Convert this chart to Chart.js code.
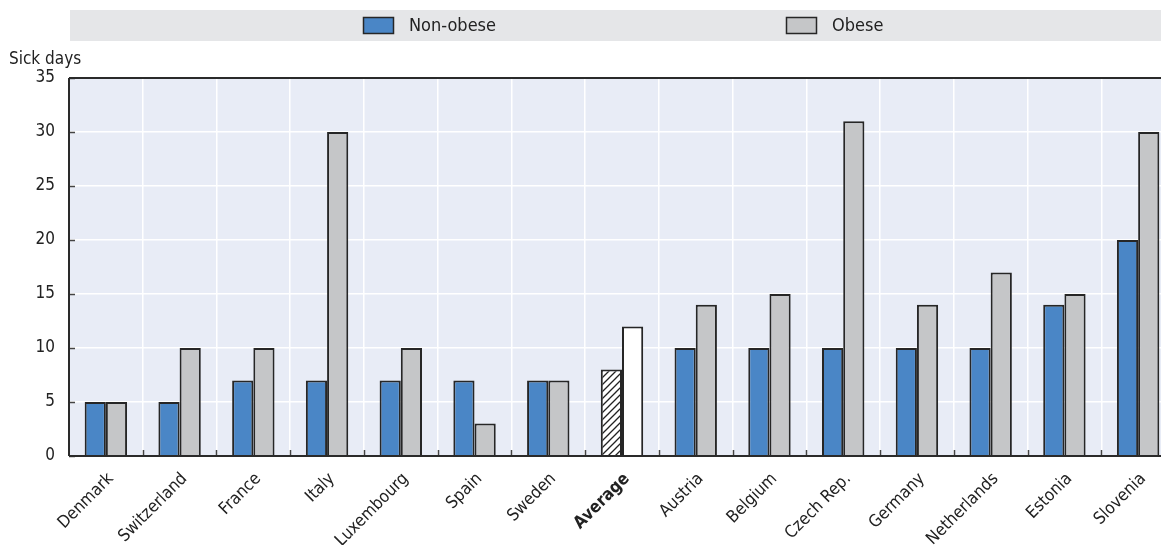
<!DOCTYPE html>
<html>
<head>
<meta charset="utf-8">
<script src="https://cdn.jsdelivr.net/npm/chart.js@4"></script>
<style>
  html, body { margin: 0; padding: 0; background: #fff; overflow: hidden; }
  #wrap { position: relative; width: 1175px; height: 545px; }
</style>
</head>
<body>
<div id="wrap"><canvas id="c"></canvas></div>
<script>
const categories = ["Denmark","Switzerland","France","Italy","Luxembourg","Spain","Sweden","Average","Austria","Belgium","Czech Rep.","Germany","Netherlands","Estonia","Slovenia"];
const nonObese = [5,5,7,7,7,7,7,8,10,10,10,10,10,14,20];
const obese    = [5,10,10,30,10,3,7,12,14,15,31,14,17,15,30];
const yTicks = [0,5,10,15,20,25,30,35];
const seriesNames = ["Non-obese","Obese"];
const yTitle = "Sick days";
const highlight = "Average";

const FONT = "'Liberation Sans Narrow', 'DejaVu Sans Condensed', 'Arial Narrow', sans-serif";
const BLUE = "#4a86c6", GREY = "#c5c6c8", EDGE = "#262626", PLOT_BG = "#e8ecf6";

function hatch() {
  const s = 7;
  const c = document.createElement('canvas');
  c.width = s; c.height = s;
  const x = c.getContext('2d');
  x.fillStyle = '#fff'; x.fillRect(0,0,s,s);
  x.strokeStyle = '#222'; x.lineWidth = 1.3;
  x.beginPath();
  x.moveTo(0,s); x.lineTo(s,0);
  x.moveTo(-s/2,s/2); x.lineTo(s/2,-s/2);
  x.moveTo(s/2,s*1.5); x.lineTo(s*1.5,s/2);
  x.stroke();
  return document.getElementById('c').getContext('2d').createPattern(c,'repeat');
}
const hatchPat = hatch();

const bgPlugin = {
  id: 'bg',
  beforeDraw(chart) {
    const {ctx, chartArea: a} = chart;
    ctx.save();
    ctx.fillStyle = PLOT_BG;
    ctx.fillRect(a.left, a.top, a.right - a.left, a.bottom - a.top);
    // legend band
    ctx.fillStyle = '#e5e6e8';
    ctx.fillRect(70, 10, chart.width - 70, 31);
    const ds = chart.data.datasets;
    const pos = [363, 786];
    ctx.font = "18px " + FONT;
    ctx.textBaseline = 'middle';
    ds.forEach((d, i) => {
      ctx.fillStyle = d.legendColor;
      ctx.fillRect(pos[i], 17, 30, 16);
      ctx.strokeStyle = EDGE; ctx.lineWidth = 1.5;
      ctx.strokeRect(pos[i] + 0.5, 17.5, 30, 16);
      ctx.fillStyle = '#222';
      ctx.fillText(d.label, pos[i] + 46, 26);
    });
    // y title
    ctx.font = "17px " + FONT;
    ctx.textBaseline = 'alphabetic';
    ctx.fillStyle = '#222';
    ctx.fillText(yTitle, 9, 64);
    ctx.restore();
  },
  afterDraw(chart) {
    const {ctx, chartArea: a, scales: {x, y}} = chart;
    ctx.save();
    ctx.strokeStyle = '#444';
    ctx.lineWidth = 1.5;
    yTicks.forEach(v => {
      const py = Math.round(y.getPixelForValue(v)) + 0.5;
      ctx.beginPath(); ctx.moveTo(a.left, py); ctx.lineTo(a.left + 6, py); ctx.stroke();
    });
    for (let i = 1; i < categories.length; i++) {
      const px = Math.round((x.getPixelForValue(i - 1) + x.getPixelForValue(i)) / 2) + 0.5;
      ctx.beginPath(); ctx.moveTo(px, a.bottom); ctx.lineTo(px, a.bottom - 6); ctx.stroke();
    }
    ctx.strokeStyle = '#2a2a2a';
    ctx.lineWidth = 2;
    ctx.beginPath();
    ctx.moveTo(a.left, a.top); ctx.lineTo(a.right, a.top);
    ctx.moveTo(a.left, a.top); ctx.lineTo(a.left, a.bottom);
    ctx.moveTo(a.left, a.bottom); ctx.lineTo(a.right, a.bottom);
    ctx.stroke();
    ctx.restore();
  }
};

const avgIdx = categories.indexOf(highlight);
const colA = categories.map((c, i) => i === avgIdx ? hatchPat : BLUE);
const colB = categories.map((c, i) => i === avgIdx ? '#ffffff' : GREY);

new Chart(document.getElementById('c'), {
  type: 'bar',
  data: {
    labels: categories,
    datasets: [
      { label: seriesNames[0], data: nonObese, backgroundColor: colA, legendColor: BLUE,
        borderColor: EDGE, borderWidth: 2, barPercentage: 1, categoryPercentage: 0.575 },
      { label: seriesNames[1], data: obese, backgroundColor: colB, legendColor: GREY,
        borderColor: EDGE, borderWidth: 2, barPercentage: 1, categoryPercentage: 0.575 }
    ]
  },
  options: {
    responsive: true,
    maintainAspectRatio: false,
    animation: false,
    layout: { padding: { top: 78, left: 0, right: 0, bottom: 0 } },
    plugins: { legend: { display: false }, tooltip: { enabled: false } },
    scales: {
      x: {
        grid: { display: true, offset: true, color: '#ffffff', lineWidth: 1.5, drawTicks: false },
        border: { display: false },
        ticks: {
          color: '#222', maxRotation: 45, minRotation: 45, padding: 13, labelOffset: 5, autoSkip: false,
          font: (ctx) => ({ family: FONT, size: 17, weight: (ctx.tick && ctx.tick.label === highlight) ? 'bold' : 'normal' })
        },
        afterFit(s) { s.height = 89; }
      },
      y: {
        min: 0, max: 35,
        afterBuildTicks(s) { s.ticks = yTicks.map(v => ({ value: v })); },
        grid: { color: '#ffffff', lineWidth: 1.5, drawTicks: false },
        border: { display: false },
        ticks: { color: '#222', padding: 14, font: { family: FONT, size: 17 } },
        afterFit(s) { s.width = 69; }
      }
    }
  },
  plugins: [bgPlugin]
});
</script>
</body>
</html>
